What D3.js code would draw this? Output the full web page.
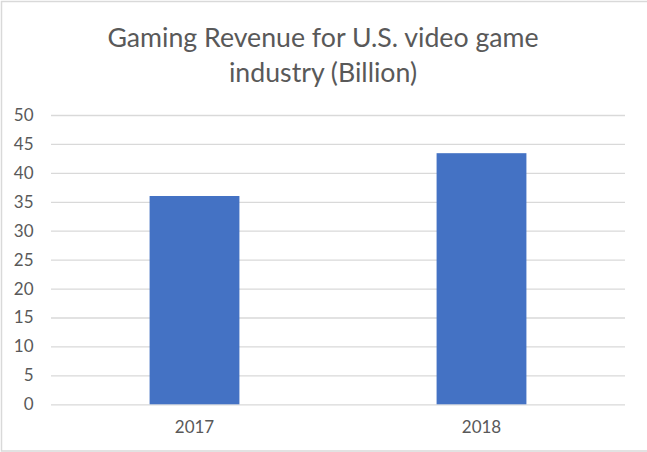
<!DOCTYPE html>
<html><head><meta charset="utf-8">
<script src="https://cdn.jsdelivr.net/npm/d3@7"></script>
<style>body{margin:0;background:#fff;}svg{display:block;}</style>
</head><body>
<svg id="c" width="647" height="452"></svg>
<script>
const categories = ["2017", "2018"];
const revenue = [36, 43.4];
const yTicks = [0, 5, 10, 15, 20, 25, 30, 35, 40, 45, 50];
const titleLines = ["Gaming Revenue for U.S. video game", "industry (Billion)"];

const svg = d3.select("#c");
const W = 647, H = 452;
const m = {left: 51, right: 22, top: 115, bottom: 47.7};
const font = "Lato, 'Open Sans', sans-serif";

svg.append("rect").attr("x", 1.5).attr("y", 1.5).attr("width", W).attr("height", H - 2.5)
  .attr("fill", "#fff").attr("stroke", "#d9d9d9").attr("stroke-width", 1.5);

const x = d3.scaleBand().domain(categories).range([m.left, W - m.right]).padding(0);
const y = d3.scaleLinear().domain([0, 50]).range([H - m.bottom, m.top]);

const yAxis = svg.append("g").attr("transform", `translate(${m.left},0)`)
  .call(d3.axisLeft(y).tickValues(yTicks).tickSize(-(W - m.right - m.left)).tickPadding(17.5));
yAxis.select(".domain").remove();
yAxis.selectAll(".tick line").attr("stroke", "#d9d9d9").attr("stroke-width", 1.3);
yAxis.selectAll(".tick text").attr("fill", "#595959").style("font-family", font).style("font-size", "17px");

const bw = x.bandwidth() * 0.313;
svg.append("g").selectAll("rect").data(categories).join("rect")
  .attr("x", (d) => x(d) + x.bandwidth() / 2 - bw / 2)
  .attr("y", (d, i) => y(revenue[i]))
  .attr("width", bw)
  .attr("height", (d, i) => y(0) - y(revenue[i]))
  .attr("fill", "#4472C4");

const xAxis = svg.append("g").attr("transform", `translate(0,${y(0)})`)
  .call(d3.axisBottom(x).tickSize(0).tickPadding(17));
xAxis.select(".domain").remove();
xAxis.selectAll(".tick text").attr("fill", "#595959").style("font-family", font).style("font-size", "17px");

svg.append("g").selectAll("text").data(titleLines).join("text")
  .attr("x", 323).attr("y", (d, i) => 47.3 + i * 34.4)
  .attr("text-anchor", "middle").attr("fill", "#595959")
  .style("font-family", font).style("font-size", "26.7px")
  .text(d => d);
</script>
</body></html>
